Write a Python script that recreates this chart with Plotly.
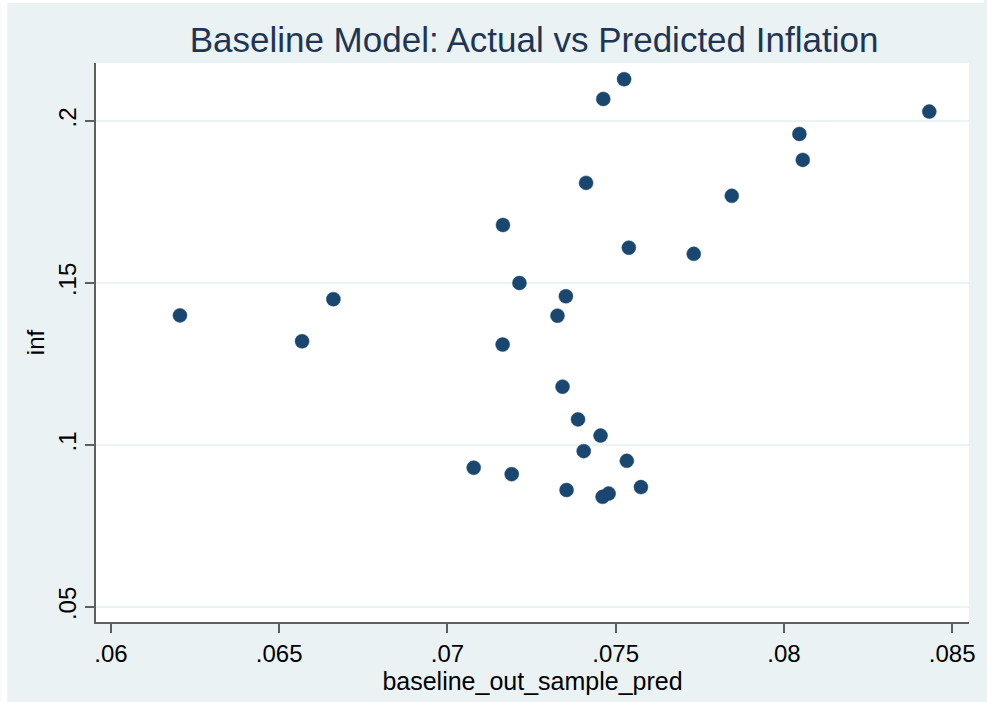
import plotly.graph_objects as go

# Data
pred = [0.06205, 0.06568, 0.06661, 0.07078, 0.07165, 0.07164, 0.07191, 0.07214,
        0.07327, 0.07352, 0.07342, 0.07354, 0.07388, 0.07405, 0.07412, 0.07455,
        0.07463, 0.07461, 0.07479, 0.07525, 0.07533, 0.07539, 0.07575, 0.07732,
        0.07845, 0.08046, 0.08056, 0.08432]
inf = [0.1400, 0.1320, 0.1450, 0.0930, 0.1679, 0.1310, 0.0910, 0.1500,
       0.1399, 0.1459, 0.1180, 0.0861, 0.1079, 0.0981, 0.1809, 0.1029,
       0.2068, 0.0840, 0.0850, 0.2129, 0.0951, 0.1609, 0.0870, 0.1590,
       0.1769, 0.1960, 0.1880, 0.2029]

x_ticks = [0.06, 0.065, 0.07, 0.075, 0.08, 0.085]
x_ticktext = [".06", ".065", ".07", ".075", ".08", ".085"]
y_ticks = [0.05, 0.1, 0.15, 0.2]
y_ticktext = [".05", ".1", ".15", ".2"]

title = "Baseline Model: Actual vs Predicted Inflation"
x_title = "baseline_out_sample_pred"
y_title = "inf"

BG = "#eaf2f3"
NAVY = "#1a476f"
AXIS = "#5f5f5f"
FONT = "Liberation Sans, Arial, sans-serif"

W, H = 987, 702
L, R, T, B = 96, 15, 63, 80
pw, ph = W - L - R, H - T - B

fig = go.Figure()
fig.add_trace(go.Scatter(
    x=pred, y=inf, mode="markers",
    marker=dict(size=14, color=NAVY, line=dict(width=0.5, color=NAVY)),
    showlegend=False,
))

fig.update_layout(
    width=W, height=H,
    margin=dict(l=L, r=R, t=T, b=B, pad=0),
    paper_bgcolor=BG,
    plot_bgcolor="white",
    font=dict(family=FONT, color="black"),
    title=dict(text=title, x=(L + pw / 2) / W, xanchor="center",
               y=1 - 40 / H, yanchor="middle", yref="container",
               font=dict(size=35, color="#1e3556", family=FONT)),
    xaxis=dict(
        range=[0.059555, 0.0855], tickvals=x_ticks, ticktext=x_ticktext,
        showgrid=False, zeroline=False,
        showline=True, linecolor=AXIS, linewidth=1.5,
        ticks="outside", ticklen=9, tickwidth=1.5, tickcolor=AXIS,
        tickfont=dict(size=24, color="black"),
        title=dict(text=x_title, font=dict(size=25, color="black"), standoff=1),
    ),
    yaxis=dict(
        range=[0.04537, 0.2179], tickvals=y_ticks, ticktext=y_ticktext,
        showgrid=True, gridcolor=BG, gridwidth=1.5, zeroline=False,
        showline=True, linecolor=AXIS, linewidth=1.5,
        ticks="outside", ticklen=9, tickwidth=1.5, tickcolor=AXIS,
        tickangle=-90,
        tickfont=dict(size=24, color="black"),
        title=dict(text=y_title, font=dict(size=24, color="black"), standoff=2),
    ),
)

# thin white strips at the very left and top edges
fig.add_shape(type="rect", xref="paper", yref="paper",
              x0=-L / pw, x1=(7 - L) / pw, y0=-B / ph, y1=(H - B) / ph,
              line=dict(width=0), fillcolor="white", layer="below")
fig.add_shape(type="rect", xref="paper", yref="paper",
              x0=-L / pw, x1=1 + R / pw, y0=(ph + T - 3) / ph, y1=(ph + T) / ph,
              line=dict(width=0), fillcolor="white", layer="below")

fig.write_html("out.html")
